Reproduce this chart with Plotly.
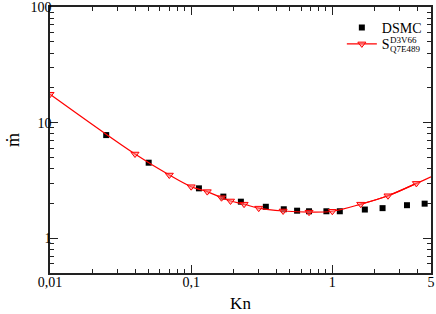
import numpy as np
import plotly.graph_objects as go

# DSMC data (Kn, mdot)
dsmc_kn = [0.025, 0.05, 0.1135, 0.169, 0.225, 0.338, 0.453, 0.563, 0.684, 0.908, 1.13, 1.70, 2.27, 3.38, 4.51]
dsmc_m = [7.8, 4.5, 2.70, 2.29, 2.07, 1.87, 1.78, 1.73, 1.71, 1.71, 1.71, 1.77, 1.82, 1.93, 1.99]

# Model curve S (Kn, mdot), markers
s_kn = [0.01, 0.04, 0.07, 0.1, 0.13, 0.164, 0.19, 0.237, 0.301, 0.448, 0.684, 1.0, 1.59, 2.48, 3.94]
s_m = [17.6, 5.35, 3.52, 2.79, 2.53, 2.24, 2.10, 1.97, 1.82, 1.72, 1.68, 1.71, 1.97, 2.33, 2.98]
# continuation of the curve to the right edge (no marker)
s_tail_kn = [1.59, 2.48, 3.94, 5.0]
s_tail_m = [1.97, 2.33, 2.98, 3.40]

x_tickvals = [0.01, 0.1, 1, 5]
x_ticktext = ["0,01", "0,1", "1", "5"]
y_tickvals = [1, 10, 100]
y_ticktext = ["1", "10", "100"]

x_minor = [0.02, 0.03, 0.04, 0.05, 0.06, 0.07, 0.08, 0.09,
           0.2, 0.3, 0.4, 0.5, 0.6, 0.7, 0.8, 0.9, 2, 3, 4]
y_minor = [0.6, 0.7, 0.8, 0.9, 2, 3, 4, 5, 6, 7, 8, 9, 20, 30, 40, 50, 60, 70, 80, 90]

FONT = "Liberation Serif"
RED = "#ff0000"

fig = go.Figure()
fig.add_trace(go.Scatter(
    x=s_tail_kn, y=s_tail_m, mode="lines", showlegend=False,
    line=dict(color=RED, width=1.2, shape="spline"), hoverinfo="skip"))
fig.add_trace(go.Scatter(
    x=dsmc_kn, y=dsmc_m, mode="markers", name="DSMC", legend="legend",
    marker=dict(symbol="square", size=6, color="black")))
fig.add_trace(go.Scatter(
    x=s_kn, y=s_m, mode="lines+markers", name="S", legend="legend2",
    line=dict(color=RED, width=1.2, shape="spline"),
    marker=dict(symbol="triangle-down", size=7, color="rgba(255,120,120,0.55)",
                line=dict(color=RED, width=1))))

axis_common = dict(
    showline=True, linecolor="#222", linewidth=1.5, mirror="ticks",
    ticks="inside", ticklen=8, tickwidth=1, tickcolor="#222",
    showgrid=False, zeroline=False, automargin=False,
    ticklabeloverflow="allow",
    tickfont=dict(family=FONT, size=14, color="black"),
)

fig.update_xaxes(
    type="log", range=[np.log10(0.01) - 0.0002, np.log10(5) + 0.0002],
    tickmode="array", tickvals=x_tickvals, ticktext=x_ticktext,
    minor=dict(tickmode="array", tickvals=x_minor, ticks="inside", ticklen=4,
               tickcolor="#222", showgrid=False),
    ticklabelstandoff=-5,
    title=dict(text="Kn", font=dict(family=FONT, size=17, color="black"), standoff=9),
    **axis_common)
fig.update_yaxes(
    type="log", range=[np.log10(0.5), 2.0002],
    tickmode="array", tickvals=y_tickvals, ticktext=y_ticktext,
    minor=dict(tickmode="array", tickvals=y_minor, ticks="inside", ticklen=4,
               tickcolor="#222", showgrid=False),
    ticklabelstandoff=-6,
    title=dict(text="ṁ", font=dict(family=FONT, size=18, color="black"), standoff=6),
    **axis_common)

legend_common = dict(xanchor="left", yanchor="top",
                     bgcolor="rgba(0,0,0,0)", borderwidth=0,
                     font=dict(family=FONT, size=14, color="black"),
                     itemwidth=30)

fig.update_layout(
    width=436, height=314,
    margin=dict(l=50, r=5, t=7, b=41),
    paper_bgcolor="white", plot_bgcolor="white",
    showlegend=True,
    legend=dict(x=0.766, y=0.982, **legend_common),
    legend2=dict(x=0.766, y=0.920, **legend_common),
    annotations=[
        dict(text="D3V66", x=0.888, y=0.877, xref="paper", yref="paper",
             xanchor="left", yanchor="middle", showarrow=False,
             font=dict(family=FONT, size=9, color="black")),
        dict(text="Q7E489", x=0.888, y=0.842, xref="paper", yref="paper",
             xanchor="left", yanchor="middle", showarrow=False,
             font=dict(family=FONT, size=9, color="black")),
    ],
)

fig.write_html("out.html", config={"displayModeBar": False},
               post_script="document.body.style.margin='0';")
